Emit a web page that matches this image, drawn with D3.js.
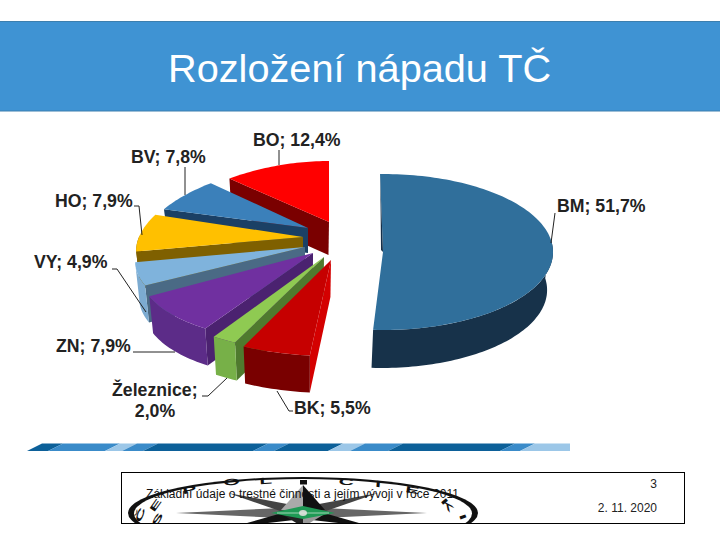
<!DOCTYPE html>
<html><head><meta charset="utf-8">
<style>html,body{margin:0;padding:0;background:#fff}svg{display:block}text{font-family:"Liberation Sans",Arial,sans-serif}</style>
<script src="https://cdn.jsdelivr.net/npm/d3@7"></script></head>
<body><svg id="c" width="720" height="540"></svg>
<script>
const titleText = "Rozložení nápadu TČ";
const categories = ["BM","BK","Železnice","ZN","VY","HO","BV","BO"];
const shares = [51.7,5.5,2.0,7.9,4.9,7.9,7.8,12.4];
const footerText = "Základní údaje o trestné činnosti a jejím vývoji v roce 2011";
const footerPage = "3";
const footerDate = "2. 11. 2020";

// look of each exploded slice (same order as categories)
const apexX = [383,331,324,313,305,303,308,329];
const apexY = [252,260,257,253,247,237,228,222];
const radiusX = [170,172,175,171,167,164,160,164];
const radiusY = [78,96,95,90,80,75,63,61];
const perspective = [0,.19,.19,.19,.19,.19,.19,.19];
const trimStart = [-1,0,0,0,0,0,0,0];
const trimEnd = [-2.6,0,0,0,0,0,0,0];
const depth = [38,37,38,37,37,37,25,33];
const faceCol = ["#306f9b","#c60000","#8fca52","#7030a0","#7fb3dc","#ffc000","#3b80ba","#ff0000"];
const cutCol = ["#16304a","#d40000","#4f7a2e","#4b2270","#4a6a85","#7f6000","#1b4065","#7a0000"];
const rimCol = ["#17324a","#790000","#77b048","#5c2c88","#7cabd1","#7f6000","#1b4065","#7a0000"];

const svg = d3.select("#c");
const line = d3.line();
const rad = Math.PI/180;
const arcs = d3.pie().sort(null).value(d=>d).startAngle(0).endAngle(2*Math.PI)(shares);
const vanishX = 307, taper = 0.976;

const pt = (i,a)=>{
  const sx = 1-perspective[i]*Math.cos(a);
  return [apexX[i]+radiusX[i]*sx*Math.sin(a), apexY[i]-radiusY[i]*Math.cos(a)];
};
const drop = (i,p)=>[vanishX+(p[0]-vanishX)*taper, p[1]+depth[i]];
const rim = (i,a0,a1)=>{const n=Math.max(2,Math.ceil(Math.abs(a1-a0)*40));return d3.range(n+1).map(k=>pt(i,a0+(a1-a0)*k/n));};

function drawSlice(i,g){
  const a0=arcs[i].startAngle+trimStart[i]*rad,a1=arcs[i].endAngle+trimEnd[i]*rad;
  if(i>0){
    const A=[apexX[i],apexY[i]],R=pt(i,a0);
    g.append("path").attr("d",line([A,R,drop(i,R),drop(i,A)])+"Z").attr("fill",cutCol[i]);
  }
  const lo=Math.max(a0,Math.PI/2-0.15),hi=Math.min(a1,Math.PI*1.5+0.02);
  if(hi>lo){
    const top=rim(i,lo,hi);
    g.append("path").attr("d",line(top.concat(top.map(p=>drop(i,p)).reverse()))+"Z").attr("fill",rimCol[i]);
  }
  g.append("path").attr("d",line([[apexX[i],apexY[i]]].concat(rim(i,a0,a1)))+"Z").attr("fill",faceCol[i]);
  if(i===0){
    const T=pt(0,a0);
    g.append("path").attr("d",line([T,[apexX[0],apexY[0]],[apexX[0]-2,apexY[0]-2],[T[0]+0.5,T[1]+30]])+"Z").attr("fill",cutCol[0]);
  }
}

// title bar
svg.append("rect").attr("x",-1).attr("y",21.5).attr("width",722).attr("height",89.5).attr("fill","#3f93d3").attr("stroke","#3d7fae");
svg.append("text").attr("x",168).attr("y",82).attr("font-size",39.7).attr("fill","#fff").text(titleText);

// pie, back to front
const pie=svg.append("g");
drawSlice(0,pie.append("g"));
[7,6,5,4,3,2,1].forEach(i=>drawSlice(i,pie.append("g")));

// leader lines
const leaders={BO:[[279,150],[279,165]],BV:[[185,167],[185,195]],HO:[[134,206],[139,206],[142,235]],VY:[[112,269],[117,269],[146,312]],ZN:[[133,352],[175,352]],"Železnice":[[202,396],[208,396],[227,378]],BK:[[277,391],[289,411],[293,411]],BM:[[555,213],[551,243]]};
const labelPos={BM:[557,212],BK:[294,414],"Železnice":[112,396],ZN:[56,352],VY:[34,268],HO:[55,207],BV:[131,163],BO:[253,146]};
categories.forEach(c=>svg.append("path").attr("d",line(leaders[c])).attr("fill","none").attr("stroke","#222").attr("stroke-width",1));

const fmt=v=>v.toFixed(1).replace(".",",")+"%";
categories.forEach((c,i)=>{
  const [x,y]=labelPos[c];
  const t=svg.append("text").attr("x",x).attr("y",y).attr("font-size",17.7).attr("font-weight",700).attr("fill","#222");
  if(c==="Železnice"){
    t.text(c+";");
    svg.append("text").attr("x",155).attr("y",417).attr("text-anchor","middle").attr("font-size",17.7).attr("font-weight",700).attr("fill","#222").text(fmt(shares[i]));
  } else t.text(c+"; "+fmt(shares[i]));
});

// stripe band
const bandTop=443.5,bandBot=451,slant=15;
const bandStops=[27,48,105,122,143,253,274,328,350,388,500,520,570];
const bandCols=["#0c6099","#3a8bc9","#9cc7e8","#3a8bc9","#0c6099","#3a8bc9","#0c6099","#9cc7e8","#3a8bc9","#0c6099","#3a8bc9","#9cc7e8"];
bandCols.forEach((col,i)=>{
  const a=bandStops[i],b=bandStops[i+1];
  const tr=Math.min(b+slant,570),tl=Math.min(a+slant,570);
  svg.append("path").attr("d",line([[a,bandBot],[tl,bandTop],[tr,bandTop],[Math.min(b,570),bandBot]])+"Z").attr("fill",col);
});

// footer with emblem
const defs=svg.append("defs");
defs.append("clipPath").attr("id","fb").append("rect").attr("x",121).attr("y",472).attr("width",563).attr("height",51);
const em=svg.append("g").attr("clip-path","url(#fb)");
const cx=303,cy=513;
em.append("ellipse").attr("cx",cx).attr("cy",cy).attr("rx",175).attr("ry",36).attr("fill","#111");
em.append("ellipse").attr("cx",cx).attr("cy",cy+0.5).attr("rx",169).attr("ry",34.5).attr("fill","#fff");
const spikes=[[-127,0,"#666"],[124,0,"#666"],[-75,-20,"#444"],[75,-20,"#444"],[-70,14,"#111"],[70,14,"#111"]];
spikes.forEach(([dx,dy,col])=>{
  em.append("path").attr("d",line([[cx+dx,cy+dy],[cx+dx*0.16,cy+dy*0.16-5],[cx,cy],[cx+dx*0.16,cy+dy*0.16+5]])+"Z").attr("fill",col);
});
em.append("path").attr("d",line([[cx,cy-28],[cx-22,cy-3],[cx,cy-3]])+"Z").attr("fill","#aaa");
em.append("path").attr("d",line([[cx,cy-28],[cx+22,cy-3],[cx,cy-3]])+"Z").attr("fill","#111");
em.append("path").attr("d",line([[cx-20,cy+2],[cx,cy+14],[cx,cy+2]])+"Z").attr("fill","#222");
em.append("path").attr("d",line([[cx+20,cy+2],[cx,cy+14],[cx,cy+2]])+"Z").attr("fill","#999");
em.append("path").attr("d",line([[cx-32,cy],[cx,cy-7],[cx+32,cy],[cx,cy+6]])+"Z").attr("fill","#1f9a55");
em.append("ellipse").attr("cx",cx).attr("cy",cy).attr("rx",4).attr("ry",3).attr("fill","#cfd8d0");
em.append("path").attr("d",line([[cx-26,cy],[cx+26,cy]])).attr("stroke","#d8efe0").attr("stroke-width",0.7);
em.append("rect").attr("x",300).attr("y",480).attr("width",7).attr("height",4.5).attr("fill","#111");
const emblemLetters=[["P",190,493,-10],["O",232,485,-5],["L",266,484,-3],["C",346,485,3],["I",378,487,5],["E",412,493,9],["Č",143,516,-70],["E",158,507,-55],["S",160,521,-60],["K",445,507,50],["I",460,518,70]];
emblemLetters.forEach(([s,x,y,r])=>{
  em.append("text").attr("transform",`translate(${x},${y}) rotate(${r}) scale(1.4,0.6)`).attr("text-anchor","middle").attr("font-size",15).attr("font-weight",700).attr("fill","#111").text(s);
});
svg.append("rect").attr("x",121.5).attr("y",472.5).attr("width",563).attr("height",51).attr("fill","none").attr("stroke","#000").attr("stroke-width",1);
svg.append("text").attr("x",146).attr("y",498).attr("font-size",12).attr("letter-spacing",0.05).attr("fill","#111").text(footerText);
svg.append("text").attr("x",657).attr("y",488).attr("text-anchor","end").attr("font-size",12).attr("fill","#222").text(footerPage);
svg.append("text").attr("x",657).attr("y",512).attr("text-anchor","end").attr("font-size",12).attr("fill","#222").text(footerDate);
</script></body></html>
